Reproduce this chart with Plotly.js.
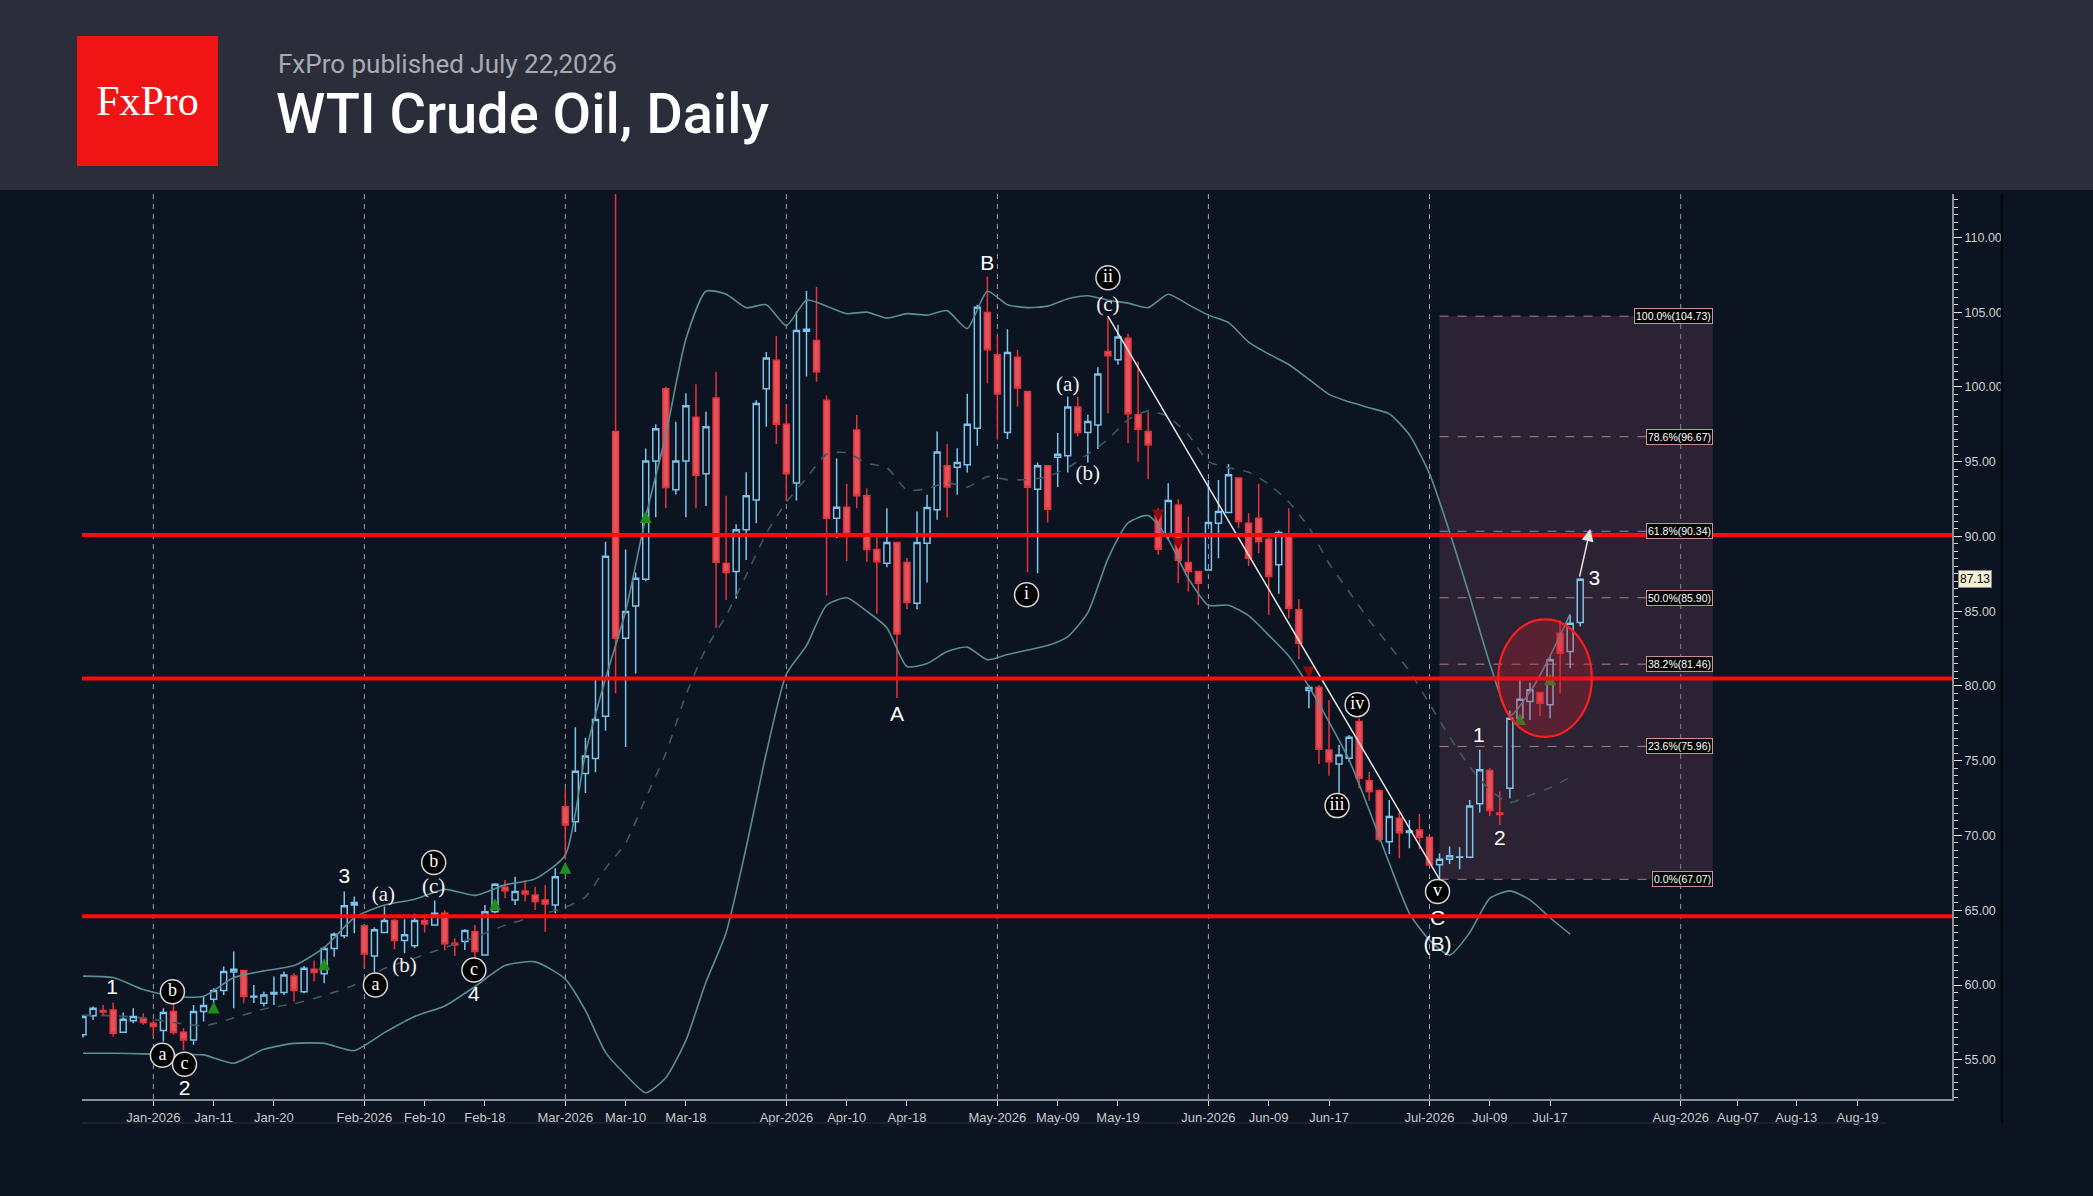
<!DOCTYPE html>
<html><head><meta charset="utf-8">
<script src="https://cdn.plot.ly/plotly-3.0.1.min.js"></script>
<style>
html,body{margin:0;padding:0;background:#0c1321;width:2093px;height:1196px;overflow:hidden}
#chart{position:absolute;left:0;top:0;width:2093px;height:1196px}
#header{position:absolute;left:0;top:0;width:2093px;height:190px;background:#2b2e3a;z-index:5}
#logo{position:absolute;left:77px;top:36px;width:141px;height:130px;background:#f01414;color:#fff;font-family:"Liberation Serif",serif;font-size:42px;line-height:130px;text-align:center}
#sub{position:absolute;left:278px;top:51px;font-family:Roboto,sans-serif;font-size:26px;line-height:1;color:#a9abb3;white-space:nowrap}
#title{position:absolute;left:276px;top:86px;font-family:Roboto,sans-serif;font-size:56px;line-height:1;font-weight:500;color:#fff;white-space:nowrap}
</style></head>
<body>
<div id="chart"></div>
<div id="header">
  <div id="logo">FxPro</div>
  <div id="sub">FxPro published July 22,2026</div>
  <div id="title">WTI Crude Oil, Daily</div>
</div>
<script>
// ---------- DATA ----------
const open = [56.67,57.94,58.3,58.34,56.84,57.62,57.78,57.45,56.96,58.23,
56.84,56.33,58.23,59.05,59.63,60.88,60.97,59.2,58.78,59.4,
59.5,60.61,59.56,61.06,60.75,62.44,63.29,65.36,63.96,61.95,
63.51,64.31,62.98,62.62,64.31,64.02,64.8,62.8,62.91,63.56,
62.01,64.91,66.54,65.69,66.29,66.02,65.69,65.35,71.93,70.92,
74.14,75.15,77.98,97.02,83.2,85.35,87.13,95.05,99.88,93.12,
95.05,97.97,94.19,99.26,88.2,87.65,90.45,92.44,99.87,101.78,
97.51,93.58,103.72,103.1,99.11,91.21,91.95,97.11,92.72,89.13,
88.21,89.59,88.26,85.54,89.55,91.78,94.72,94.63,94.79,97.24,
104.98,102.15,96.95,101.99,99.69,93.16,94.72,95.3,95.39,98.65,
96.95,97.46,102.37,101.81,103.26,98.13,97.02,91.44,90.04,92.11,
88.26,87.65,87.76,90.89,91.6,93.9,90.89,91.22,89.82,88.1,
89.99,85.09,79.7,79.92,75.72,74.79,75.17,77.62,73.67,73.0,
69.59,71.15,70.2,70.37,69.88,68.04,68.41,68.55,68.55,72.12,
74.35,71.5,73.16,77.85,78.96,79.56,78.74,83.53,82.3,84.24];
const high = [58.0,58.56,58.67,58.83,58.16,58.45,58.12,57.67,58.45,58.78,
57.11,58.67,59.23,59.79,61.24,62.24,61.0,60.0,59.56,60.57,
60.9,60.79,61.28,61.64,62.58,63.51,66.25,65.92,64.02,63.87,
65.25,64.4,64.4,64.76,64.76,65.65,64.98,63.13,63.73,64.02,
65.35,66.8,67.03,67.25,67.03,66.58,66.69,67.81,73.16,77.24,
76.53,80.43,89.65,112.9,89.13,87.59,95.88,97.51,100.0,97.67,
99.57,100.18,98.34,101.01,92.72,90.82,94.29,99.11,102.33,103.41,
98.86,105.04,106.42,106.69,99.42,95.21,93.52,98.13,93.21,90.05,
91.89,89.59,88.55,91.67,92.78,97.02,96.19,95.9,99.54,105.5,
107.39,103.42,103.86,102.48,99.69,94.95,94.72,96.91,99.36,99.32,
98.13,101.32,104.73,104.15,103.55,101.7,98.36,91.89,93.56,92.49,
91.33,87.65,93.78,93.78,94.85,93.9,91.55,93.52,89.99,90.4,
91.89,85.8,80.07,80.07,79.07,76.06,76.73,77.84,74.27,73.09,
72.38,71.6,71.04,71.44,69.88,68.81,69.26,69.22,72.38,75.73,
74.5,72.94,78.36,80.41,80.23,79.56,82.02,84.38,84.76,87.21];
const low = [56.5,57.67,58.0,56.56,56.84,57.45,57.34,56.56,56.22,56.67,
55.66,56.0,57.56,58.34,59.34,58.45,58.78,58.8,58.56,58.67,
59.34,58.9,59.45,60.23,60.12,61.9,63.13,63.47,61.13,60.84,
63.47,62.4,62.13,62.46,63.51,63.96,62.31,61.95,62.35,61.8,
62.01,64.8,65.8,65.35,65.58,65.02,63.57,64.8,68.4,70.24,
72.85,74.23,77.0,79.51,75.92,80.83,87.0,91.28,91.89,92.81,
91.28,91.89,92.04,83.9,85.75,85.84,88.42,90.88,97.33,96.19,
92.35,92.41,100.7,100.34,86.05,89.9,88.36,91.89,88.3,84.83,
87.94,79.2,85.13,85.13,86.92,91.11,91.27,92.78,94.28,96.06,
100.25,96.46,96.51,98.69,87.6,87.54,90.93,93.3,94.28,96.68,
94.95,95.84,98.24,101.48,96.24,95.0,93.83,88.77,89.77,86.87,
86.32,85.42,87.76,88.54,91.6,90.55,88.03,88.88,84.75,86.16,
84.53,81.79,78.51,74.79,73.99,72.71,74.94,73.16,72.33,69.59,
68.77,68.48,69.15,69.08,67.92,67.1,68.1,67.75,68.55,71.54,
71.31,70.71,72.49,77.4,77.73,78.0,77.85,79.52,81.19,83.98];
const close = [57.89,58.45,58.2,56.78,57.71,57.89,57.49,57.22,58.16,56.82,
56.33,58.23,58.63,59.63,60.9,61.06,59.23,59.25,59.34,59.5,
60.68,59.63,61.13,60.84,62.44,63.4,65.3,65.52,62.08,63.69,
64.31,62.98,63.36,64.31,64.09,64.8,62.76,62.68,63.65,62.24,
64.91,66.74,66.31,66.25,66.09,65.58,65.42,67.25,70.7,74.29,
75.31,77.76,88.67,83.2,84.98,87.2,95.05,97.2,93.27,95.05,
98.74,94.1,97.33,88.27,87.59,90.45,92.72,98.89,101.93,97.51,
94.19,103.78,103.85,101.01,91.21,91.95,90.2,92.72,89.13,88.3,
89.59,83.48,85.58,89.59,91.94,95.64,93.3,94.95,97.51,105.33,
102.48,99.52,102.3,99.92,93.29,94.72,91.82,95.5,98.65,96.95,
97.69,100.87,102.08,103.33,98.2,97.17,96.13,89.15,92.41,88.39,
87.65,86.87,90.93,91.67,94.12,91.0,88.54,89.66,87.32,90.26,
85.2,82.86,79.9,75.77,74.94,75.39,76.57,73.83,72.94,69.75,
71.27,70.19,70.3,69.88,68.03,68.41,68.64,68.57,71.98,74.39,
71.67,71.4,77.85,79.12,79.74,78.85,81.75,82.19,84.2,87.13];

// Bollinger bands (trading-day index, price)
const bandIdx = [0,3,6,9,12,15,18,21,24,27,30,33,36,39,42,45,48,
50,52,54,56,58,60,62,64,66,68,70,72,74,76,78,80,82,84,86,88,90,92,94,96,98,
100,102,104,106,108,110,112,114,116,118,120,122,124,126,128,130,132,134,136,138,140,142,144,146,148];
const bandUpper = [60.6,60.5,59.7,59.23,59.25,60.5,60.95,61.3,62.5,64.5,65.36,65.74,66.4,66.0,66.7,67.1,68.7,
75.5,80.5,85.0,91.3,96.8,103.2,106.4,106.2,105.3,105.5,104.1,105.8,105.4,104.9,105.0,104.6,104.9,104.8,105.1,103.9,106.4,105.5,105.3,105.4,105.9,
106.1,105.8,105.6,105.3,106.2,105.5,104.8,104.3,103.0,102.2,101.5,100.5,99.5,99.0,98.6,98.2,96.8,94.2,90.3,86.0,81.5,78.0,79.6,82.0,84.8];
const bandMid = [58.0,57.95,57.8,57.5,57.27,57.8,58.4,58.75,59.3,60.0,61.1,61.8,62.5,63.2,64.0,64.6,65.2,
65.9,67.8,69.5,72.5,75.5,79.4,82.5,84.7,87.4,90.2,92.3,93.9,95.5,95.6,94.9,94.6,93.1,93.2,93.6,93.3,94.0,93.8,93.8,94.0,94.6,
95.5,96.5,97.8,98.4,98.0,96.8,95.0,94.6,94.3,93.5,92.3,90.6,88.2,86.3,84.4,82.7,81.0,78.8,76.6,74.6,73.05,72.2,72.7,73.2,73.9];
const bandLower = [55.44,55.44,55.4,55.35,55.33,54.77,55.7,56.1,56.1,55.62,56.82,57.9,58.6,59.9,61.3,61.55,60.4,
58.3,55.5,54.0,52.8,53.8,56.3,60.2,63.5,69.2,75.5,80.8,82.7,85.4,85.9,85.0,83.9,81.3,81.5,82.3,82.6,81.75,82.1,82.4,82.7,83.3,
84.9,88.5,90.9,91.4,89.8,87.2,85.4,85.4,84.7,83.4,82.0,79.96,77.6,75.06,71.7,68.14,64.8,63.0,62.0,63.5,65.8,66.3,65.7,64.5,63.4];

// X-axis tick labels (trading-day index of each label)
const tickIdx = [7,13,19,28,34,40,48,54,60,70,76,82,91,97,103,112,118,124,134,140,146,159,164.7,170.5,176.6];
const tickText = ['Jan-2026','Jan-11','Jan-20','Feb-2026','Feb-10','Feb-18','Mar-2026','Mar-10','Mar-18',
'Apr-2026','Apr-10','Apr-18','May-2026','May-09','May-19','Jun-2026','Jun-09','Jun-17',
'Jul-2026','Jul-09','Jul-17','Aug-2026','Aug-07','Aug-13','Aug-19'];
const monthIdx = [7,28,48,70,91,112,134,159];

// Horizontal support/resistance levels
const levels = [90.1, 80.5, 64.6];

// Fibonacci retracement
const fibLow = 67.07, fibHigh = 104.73;
const fibRatios = [1, 0.786, 0.618, 0.5, 0.382, 0.236, 0];
const fibStart = 135, fibEnd = 162.2;

// Wave labels
const plainText = ['1','2','3','4','A','B','C','(B)','1','2','3'];
const plainX = [2.9,10.1,26,38.9,81,90,134.8,134.8,138.9,141,150.4];
const plainY = [59.73,53.0,67.2,59.3,78.0,108.2,64.4,62.6,76.6,69.7,87.1];
const circText = ['a','b','c','a','b','c','i','ii','iii','iv','v'];
const circX = [7.9,8.9,10.1,29.1,34.9,38.9,93.9,102,124.8,126.8,134.8];
const circY = [55.3,59.55,54.7,60.0,68.2,61.0,86.1,107.3,72.0,78.75,66.25];
const parenText = ['(a)','(b)','(c)','(a)','(b)','(c)'];
const parenX = [29.9,32,34.9,98,100,102];
const parenY = [66.0,61.2,66.5,100.1,94.1,105.45];

// Signal arrows
const upArrowX = [13,24,41,48,56,143,146];
const upArrowY = [58.9,61.8,65.8,68.25,91.7,78.2,80.85];
const dnArrowX = [107,109,122];
const dnArrowY = [91.0,89.1,80.5];

// Trend line (wave ii top to wave v low), ellipse, projection arrow
const trendX = [102, 135], trendY = [104.73, 67.07];
const ellipse = {x0:140.85, x1:150.15, y0:76.6, y1:84.45};
const projTail = [148.9, 87.21], projHead = [150.0, 90.49];
const lastPrice = 87.13;

// ---------- CHART ----------
const idx = open.map((_, i) => i);
const bandLine = (y, color, dash) => ({type:'scatter', mode:'lines', x:bandIdx, y:y,
  line:{color:color, width:1.6, dash:dash, shape:'spline', smoothing:0.6}, hoverinfo:'skip'});

const traces = [
  bandLine(bandUpper, '#5a8e94', 'solid'),
  bandLine(bandLower, '#5a8e94', 'solid'),
  bandLine(bandMid, '#3b5a60', 'dash'),
  {type:'candlestick', x:idx, open:open, high:high, low:low, close:close,
   increasing:{line:{color:'#7cc4ec', width:1.5}, fillcolor:'rgba(0,0,0,0)'},
   decreasing:{line:{color:'#e8323c', width:1.5}, fillcolor:'#e2545c'},
   whiskerwidth:0, hoverinfo:'skip'},
  {type:'scatter', mode:'markers', x:upArrowX, y:upArrowY,
   marker:{symbol:'arrow-up', size:12, color:'#1f8f1f'}, hoverinfo:'skip'},
  {type:'scatter', mode:'markers', x:dnArrowX, y:dnArrowY,
   marker:{symbol:'arrow-down', size:12, color:'#8a0c0c'}, hoverinfo:'skip'},
  {type:'scatter', mode:'lines', x:trendX, y:trendY, line:{color:'#e6e6e6', width:1.5}, hoverinfo:'skip'},
  {type:'scatter', mode:'text', x:plainX, y:plainY, text:plainText, textposition:'middle center',
   textfont:{family:'Liberation Sans', size:21, color:'#ffffff'}, hoverinfo:'skip'},
  {type:'scatter', mode:'text', x:parenX, y:parenY, text:parenText, textposition:'middle center',
   textfont:{family:'Liberation Serif', size:21, color:'#f2f2f2'}, hoverinfo:'skip'},
  {type:'scatter', mode:'markers+text', x:circX, y:circY, text:circText, textposition:'middle center',
   marker:{size:24, color:'#000000', line:{color:'#d8d8d8', width:1.5}},
   textfont:{family:'Liberation Serif', size:18, color:'#ffffff'}, hoverinfo:'skip'}
];

const shapes = [];
// Fibonacci box
shapes.push({type:'rect', xref:'x', yref:'y', x0:fibStart, x1:fibEnd, y0:fibLow, y1:fibHigh,
  fillcolor:'rgba(110,70,90,0.32)', line:{width:0}, layer:'below'});
fibRatios.forEach(r => {
  const v = fibLow + r * (fibHigh - fibLow);
  shapes.push({type:'line', xref:'x', yref:'y', x0:fibStart, x1:fibEnd, y0:v, y1:v,
    line:{color:'rgba(205,140,150,0.85)', width:1, dash:'dash'}, layer:'below'});
});
// Month separators
monthIdx.forEach(m => shapes.push({type:'line', xref:'x', yref:'paper', x0:m, x1:m, y0:0, y1:1,
  line:{color:'#9aa0a8', width:1, dash:'5px,5px'}, layer:'below'}));
// Horizontal levels
levels.forEach(l => shapes.push({type:'line', xref:'paper', yref:'y', x0:0, x1:1, y0:l, y1:l,
  line:{color:'#ff0a0a', width:4}}));
// Ellipse
shapes.push({type:'circle', xref:'x', yref:'y', x0:ellipse.x0, x1:ellipse.x1, y0:ellipse.y0, y1:ellipse.y1,
  fillcolor:'rgba(210,30,45,0.28)', line:{color:'#ff1e1e', width:2.2}});
// panel borders
shapes.push({type:'line', xref:'paper', yref:'paper', x0:1.0267, x1:1.0267, y0:-0.026, y1:1,
  line:{color:'#03060c', width:2}});
shapes.push({type:'line', xref:'paper', yref:'paper', x0:0, x1:0.965, y0:-0.0265, y1:-0.0265,
  line:{color:'#2c323e', width:1}});

const annotations = [];
fibRatios.forEach(r => {
  const v = fibLow + r * (fibHigh - fibLow);
  annotations.push({xref:'x', yref:'y', x:fibEnd, y:v, xanchor:'right', yanchor:'middle',
    text:(r*100).toFixed(1) + '%(' + v.toFixed(2) + ')', showarrow:false,
    font:{family:'Liberation Sans', size:10.5, color:'#ffffff'},
    bgcolor:'#050505', bordercolor:'#c8909a', borderwidth:1, borderpad:1});
});
annotations.push({xref:'x', yref:'y', x:projHead[0], y:projHead[1], ax:projTail[0], ay:projTail[1],
  axref:'x', ayref:'y', text:'', showarrow:true, arrowhead:2, arrowsize:1.6, arrowwidth:1.5, arrowcolor:'#e6e6e6'});
annotations.push({xref:'paper', yref:'y', x:1, y:lastPrice, xanchor:'left', yanchor:'middle', xshift:6,
  text:lastPrice.toFixed(2), showarrow:false, font:{family:'Liberation Sans', size:12, color:'#000'},
  bgcolor:'#f3efd3', bordercolor:'#8a8a8a', borderwidth:1, borderpad:1});

const layout = {
  width:2093, height:1196,
  margin:{l:82, r:141, t:194, b:97},
  paper_bgcolor:'#0c1321', plot_bgcolor:'#0c1321',
  showlegend:false,
  boxgap:0.15,
  xaxis:{range:[-0.1,186], tickvals:tickIdx, ticktext:tickText, showgrid:false, zeroline:false,
    showline:true, linecolor:'#8a8f98', linewidth:2, ticks:'outside', ticklen:5, tickcolor:'#d8d8d8',
    tickfont:{family:'Liberation Sans', size:13, color:'#c8c8c8'}, rangeslider:{visible:false}, fixedrange:true},
  yaxis:{side:'right', range:[52.38,112.9], dtick:5, tick0:0, tickformat:'.2f', showgrid:false, zeroline:false,
    showline:true, linecolor:'#8a8f98', linewidth:2, ticks:'outside', ticklen:8, tickcolor:'#e8e8e8',
    tickfont:{family:'Liberation Sans', size:12.5, color:'#cfcfcf'},
    minor:{dtick:0.5, ticks:'outside', ticklen:4, tickcolor:'#d8d8d8', showgrid:false}, fixedrange:true},
  shapes:shapes, annotations:annotations
};

Plotly.newPlot('chart', traces, layout, {staticPlot:true, displayModeBar:false});
</script>
</body></html>
